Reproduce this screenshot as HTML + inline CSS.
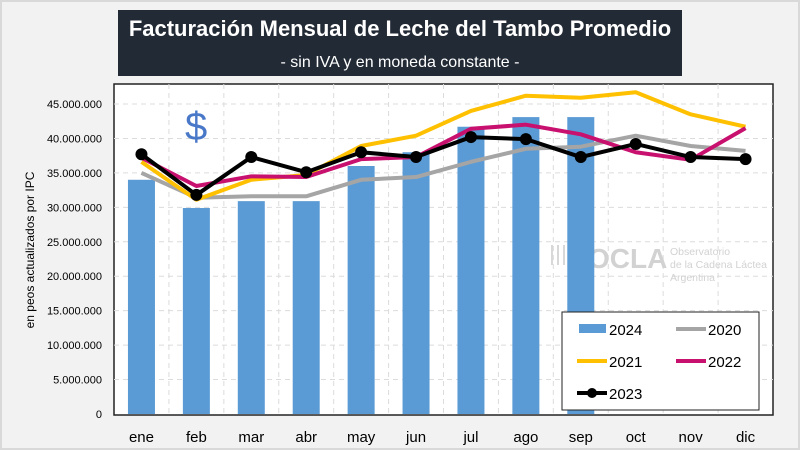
<!DOCTYPE html>
<html><head><meta charset="utf-8"><style>
body{margin:0;background:#fff;}
svg{display:block;font-family:"Liberation Sans",Arial,sans-serif;}
</style></head><body>
<svg id="c" width="800" height="450" xmlns="http://www.w3.org/2000/svg">
<rect x="0" y="0" width="800" height="450" fill="#d9d9d9"/>
<rect x="2" y="2" width="796" height="446" fill="#f2f2f2"/>
<rect x="114" y="84" width="659" height="331" fill="#fff" stroke="#222" stroke-width="1.5"/>
<g id="grid"></g>
<text x="185" y="140" font-size="40" fill="#4a78c8">$</text>
<g fill="#d2d2d2">
<path d="M552 265 v-20 M558 265 v-20 M564 265 v-20 M570 265 v-20 M576 265 v-20 M582 265 v-20" stroke="#d8d8d8" stroke-width="2"/>
<text x="588" y="268" font-size="28" font-weight="bold">OCLA</text>
<text x="670" y="255" font-size="10.5">Observatorio</text>
<text x="670" y="268" font-size="10.5">de la Cadena Láctea</text>
<text x="670" y="281" font-size="10.5">Argentina</text>
</g>
<g id="bars"></g>
<g id="lines"></g>
<g id="yticks"></g>
<g id="xticks"></g>
<text transform="translate(34,250) rotate(-90)" text-anchor="middle" font-size="12" fill="#000">en peos actualizados por IPC</text>
<rect x="118" y="10" width="564" height="66" fill="#222a35"/>
<text x="400" y="36" text-anchor="middle" font-size="22" font-weight="bold" fill="#fff">Facturación Mensual de Leche del Tambo Promedio</text>
<text x="400" y="67" text-anchor="middle" font-size="16" fill="#fff">- sin IVA y en moneda constante -</text>
<g>
<rect x="562" y="312" width="197" height="98" fill="#fff" stroke="#222" stroke-width="1"/>
<rect x="579" y="324" width="27" height="9" fill="#5b9bd5"/>
<text x="609" y="335" font-size="15">2024</text>
<line x1="676" y1="329" x2="706" y2="329" stroke="#a5a5a5" stroke-width="4"/>
<text x="708" y="335" font-size="15">2020</text>
<line x1="577" y1="361" x2="607" y2="361" stroke="#ffc000" stroke-width="4"/>
<text x="609" y="367" font-size="15">2021</text>
<line x1="676" y1="361" x2="706" y2="361" stroke="#c8106e" stroke-width="4"/>
<text x="708" y="367" font-size="15">2022</text>
<line x1="577" y1="393" x2="607" y2="393" stroke="#000" stroke-width="4"/>
<circle cx="592" cy="393" r="5" fill="#000"/>
<text x="609" y="399" font-size="15">2023</text>
</g>
</svg>
<script>
const categories=["ene","feb","mar","abr","may","jun","jul","ago","sep","oct","nov","dic"];
const s2024=[34.0,29.9,30.9,30.9,36.0,38.0,41.7,43.1,43.1];
const s2020=[35.0,31.4,31.6,31.6,34.0,34.4,36.6,38.5,38.8,40.4,38.9,38.2];
const s2021=[36.6,31.1,34.0,34.7,38.9,40.4,44.0,46.2,45.9,46.7,43.5,41.7];
const s2022=[37.2,33.1,34.5,34.4,37.0,37.3,41.4,42.0,40.6,38.0,36.9,41.5];
const s2023=[37.7,31.8,37.3,35.1,38.0,37.3,40.2,39.9,37.3,39.2,37.3,37.0];
const yTicks=[0,5,10,15,20,25,30,35,40,45];
const yTickLabels=["0","5.000.000","10.000.000","15.000.000","20.000.000","25.000.000","30.000.000","35.000.000","40.000.000","45.000.000"];
const NS="http://www.w3.org/2000/svg";
const x0=114,x1=773,y0=414,yTop=104,yMax=45;
const bw=(x1-x0)/categories.length;
const xs=i=>x0+bw*(i+0.5);
const ys=v=>y0-v/yMax*(y0-yTop);
function mk(tag,attrs,parent){const e=document.createElementNS(NS,tag);for(const k in attrs)e.setAttribute(k,attrs[k]);parent.appendChild(e);return e;}
const grid=document.getElementById('grid');
yTicks.forEach((t,i)=>{if(t===0)return;const l=mk('line',{x1:x0,x2:x1,y1:ys(t),y2:ys(t),stroke:'#dcdcdc','stroke-dasharray':'5,4'},grid);

});
categories.forEach((c,i)=>{if(i===0)return;const l=mk('line',{x1:x0+bw*i,x2:x0+bw*i,y1:84,y2:y0,stroke:'#dcdcdc','stroke-dasharray':'5,4'},grid);

});
const yt=document.getElementById('yticks');
yTicks.forEach((t,i)=>{const e=mk('text',{x:102,y:ys(t)+4,'text-anchor':'end','font-size':'11'},yt);e.textContent=yTickLabels[i];

});
const xt=document.getElementById('xticks');
categories.forEach((c,i)=>{const e=mk('text',{x:xs(i),y:442,'text-anchor':'middle','font-size':'15'},xt);e.textContent=c;

});
const bars=document.getElementById('bars');
s2024.forEach((v,i)=>{const r=mk('rect',{x:xs(i)-13.5,y:ys(v),width:27,height:y0-ys(v),fill:'#5b9bd5'},bars);

});
const lines=document.getElementById('lines');
function line(data,color,name,markers){const p=mk('polyline',{points:data.map((v,i)=>xs(i)+','+ys(v)).join(' '),fill:'none',stroke:color,'stroke-width':4,'stroke-linejoin':'round'},lines);


if(markers)data.forEach((v,i)=>{const c=mk('circle',{cx:xs(i),cy:ys(v),r:6,fill:color},lines);

});}
line(s2020,'#a5a5a5','line-2020');
line(s2021,'#ffc000','line-2021');
line(s2022,'#c8106e','line-2022');
line(s2023,'#000','line-2023',true);
</script>
</body></html>
